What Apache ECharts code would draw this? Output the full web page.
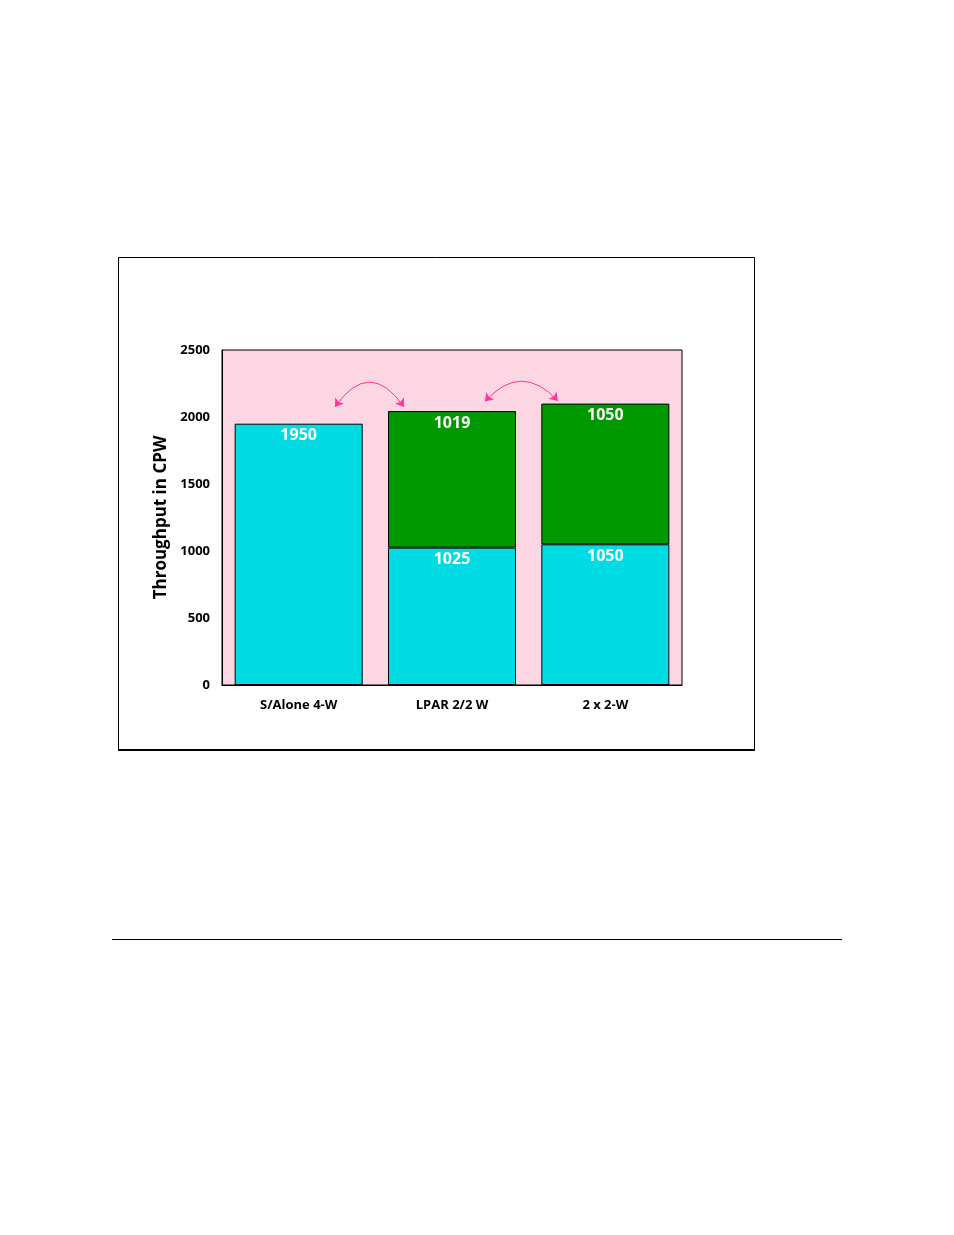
<!DOCTYPE html>
<html>
<head>
<meta charset="utf-8">
<script src="https://cdn.jsdelivr.net/npm/echarts@6/dist/echarts.min.js"></script>
<style>html,body{margin:0;padding:0;background:#fff;}#c{width:954px;height:1235px;}</style>
</head>
<body>
<div id="c"></div>
<script>
var categories = ['S/Alone 4-W', 'LPAR 2/2 W', '2 x 2-W'];
var lowerValues = [1950, 1025, 1050];
var upperValues = [null, 1019, 1050];
var yTicks = [0, 500, 1000, 1500, 2000, 2500];
// arrow ends in (category-position, CPW) units; category i spans [i, i+1]
var arrowLinks = [
  {from: [0.737, 2075], to: [1.187, 2075], curve: 0.72},
  {from: [1.715, 2115], to: [2.191, 2120], curve: 0.55}
];

var chart = echarts.init(document.getElementById('c'));
var font = '"Open Sans", "Noto Sans", sans-serif';
var labelStyle = {
  show: true, position: 'insideTop', distance: 4, color: '#fff',
  fontFamily: font, fontWeight: 'bold', fontSize: 16
};
chart.setOption({
  animation: false,
  backgroundColor: '#fff',
  graphic: [
    {type: 'rect', shape: {x: 118.5, y: 257.5, width: 636, height: 492}, style: {fill: 'none', stroke: '#000', lineWidth: 1}, z: -1},
    {type: 'line', shape: {x1: 118, y1: 750, x2: 755, y2: 750}, style: {stroke: '#000', lineWidth: 2}},
    {type: 'line', shape: {x1: 112, y1: 939.5, x2: 842, y2: 939.5}, style: {stroke: '#000', lineWidth: 1}}
  ],
  grid: {left: 222, top: 350, width: 460, height: 335, show: true, backgroundColor: '#FDD6E3', borderColor: '#000', borderWidth: 1},
  xAxis: [{
    type: 'category', data: categories,
    axisLine: {show: true, lineStyle: {color: '#000'}},
    axisTick: {show: false},
    axisLabel: {margin: 14, color: '#000', fontFamily: font, fontWeight: 'bold', fontSize: 13}
  }, {
    type: 'value', min: 0, max: categories.length, show: false
  }],
  yAxis: {
    type: 'value', min: yTicks[0], max: yTicks[yTicks.length - 1], interval: 500,
    name: 'Throughput in CPW', nameLocation: 'middle', nameGap: 52, nameRotate: 90,
    nameTextStyle: {color: '#000', fontFamily: font, fontWeight: 'bold', fontSize: 17},
    axisLine: {show: true, lineStyle: {color: '#000'}},
    axisTick: {show: false},
    splitLine: {show: false},
    axisLabel: {margin: 12, color: '#000', fontFamily: font, fontWeight: 'bold', fontSize: 13,
      formatter: function (v) { return String(v); }}
  },
  series: [
    {type: 'bar', stack: 's', data: lowerValues, barWidth: 128,
      itemStyle: {color: '#00DCE3', borderColor: '#000', borderWidth: 1}, label: labelStyle},
    {type: 'bar', stack: 's', data: upperValues, barWidth: 128,
      itemStyle: {color: '#009900', borderColor: '#000', borderWidth: 1}, label: labelStyle},
    {type: 'lines', coordinateSystem: 'cartesian2d', xAxisIndex: 1, z: 5,
      symbol: ['arrow', 'arrow'], symbolSize: 8,
      data: arrowLinks.map(function (a) {
        return {coords: [a.from, a.to], lineStyle: {curveness: a.curve}};
      }),
      lineStyle: {color: '#FF3399', width: 1, opacity: 1}}
  ]
});
</script>
</body>
</html>
